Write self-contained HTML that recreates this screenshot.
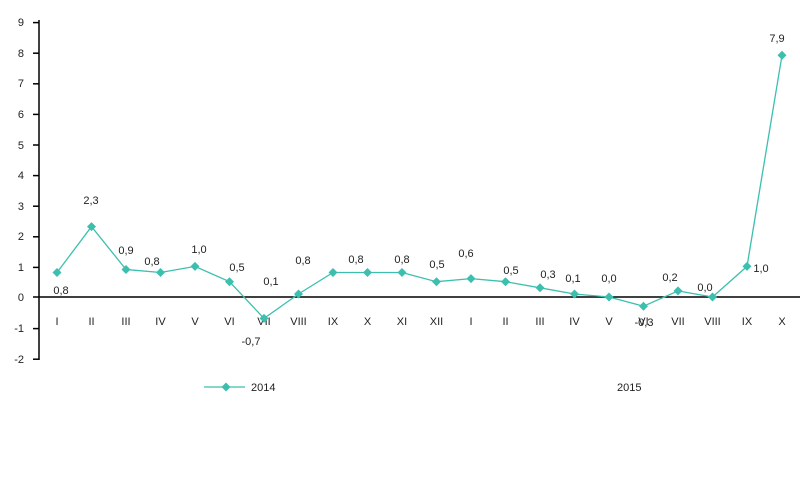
<!DOCTYPE html><html><head><style>body{margin:0;background:#fff}svg{display:block}text{font-family:"Liberation Sans",sans-serif;font-size:11px;fill:#222}</style></head><body>
<svg width="800" height="491" viewBox="0 0 800 491">
<g stroke="#000" stroke-width="1.5">
<line x1="39" y1="20" x2="39" y2="360"/>
<line x1="39" y1="297" x2="800" y2="297"/>
<line x1="33" y1="22.6" x2="39" y2="22.6"/><line x1="33" y1="53.2" x2="39" y2="53.2"/><line x1="33" y1="83.8" x2="39" y2="83.8"/><line x1="33" y1="114.4" x2="39" y2="114.4"/><line x1="33" y1="145" x2="39" y2="145"/><line x1="33" y1="175.6" x2="39" y2="175.6"/><line x1="33" y1="206.2" x2="39" y2="206.2"/><line x1="33" y1="236.8" x2="39" y2="236.8"/><line x1="33" y1="267.4" x2="39" y2="267.4"/><line x1="33" y1="297" x2="39" y2="297"/><line x1="33" y1="328.6" x2="39" y2="328.6"/><line x1="33" y1="359.2" x2="39" y2="359.2"/>
</g>
<g text-anchor="end">
<text x="24" y="26">9</text><text x="24" y="57">8</text><text x="24" y="87">7</text><text x="24" y="118">6</text><text x="24" y="149">5</text><text x="24" y="179">4</text><text x="24" y="210">3</text><text x="24" y="240">2</text><text x="24" y="271">1</text><text x="24" y="301">0</text><text x="24" y="332">-1</text><text x="24" y="363">-2</text>
</g>
<g text-anchor="middle" fill="#444">
<text x="57" y="325">I</text><text x="91.5" y="325">II</text><text x="126" y="325">III</text><text x="160.5" y="325">IV</text><text x="195" y="325">V</text><text x="229.5" y="325">VI</text><text x="264" y="325">VII</text><text x="298.5" y="325">VIII</text><text x="333" y="325">IX</text><text x="367.5" y="325">X</text><text x="402" y="325">XI</text><text x="436.5" y="325">XII</text><text x="471" y="325">I</text><text x="505.5" y="325">II</text><text x="540" y="325">III</text><text x="574.5" y="325">IV</text><text x="609" y="325">V</text><text x="643.5" y="325">VI</text><text x="678" y="325">VII</text><text x="712.5" y="325">VIII</text><text x="747" y="325">IX</text><text x="782" y="325">X</text>
</g>
<polyline fill="none" stroke="#3cbfae" stroke-width="1.3" points="57,272.5 91.5,226.6 126,269.5 160.5,272.5 195,266.4 229.5,281.7 264,318.4 298.5,294 333,272.5 367.5,272.5 402,272.5 436.5,281.7 471,278.6 505.5,281.7 540,287.8 574.5,294 609,297 643.5,306.2 678,290.9 712.5,297 747,266.4 782,55.3"/>
<g fill="#3cbfae">
<path id="d" d="M0,-4.5L4.5,0L0,4.5L-4.5,0Z" transform="translate(57,272.5)"/>
<path d="M0,-4.5L4.5,0L0,4.5L-4.5,0Z" transform="translate(91.5,226.6)"/><path d="M0,-4.5L4.5,0L0,4.5L-4.5,0Z" transform="translate(126,269.5)"/><path d="M0,-4.5L4.5,0L0,4.5L-4.5,0Z" transform="translate(160.5,272.5)"/><path d="M0,-4.5L4.5,0L0,4.5L-4.5,0Z" transform="translate(195,266.4)"/><path d="M0,-4.5L4.5,0L0,4.5L-4.5,0Z" transform="translate(229.5,281.7)"/><path d="M0,-4.5L4.5,0L0,4.5L-4.5,0Z" transform="translate(264,318.4)"/><path d="M0,-4.5L4.5,0L0,4.5L-4.5,0Z" transform="translate(298.5,294)"/><path d="M0,-4.5L4.5,0L0,4.5L-4.5,0Z" transform="translate(333,272.5)"/><path d="M0,-4.5L4.5,0L0,4.5L-4.5,0Z" transform="translate(367.5,272.5)"/><path d="M0,-4.5L4.5,0L0,4.5L-4.5,0Z" transform="translate(402,272.5)"/><path d="M0,-4.5L4.5,0L0,4.5L-4.5,0Z" transform="translate(436.5,281.7)"/><path d="M0,-4.5L4.5,0L0,4.5L-4.5,0Z" transform="translate(471,278.6)"/><path d="M0,-4.5L4.5,0L0,4.5L-4.5,0Z" transform="translate(505.5,281.7)"/><path d="M0,-4.5L4.5,0L0,4.5L-4.5,0Z" transform="translate(540,287.8)"/><path d="M0,-4.5L4.5,0L0,4.5L-4.5,0Z" transform="translate(574.5,294)"/><path d="M0,-4.5L4.5,0L0,4.5L-4.5,0Z" transform="translate(609,297)"/><path d="M0,-4.5L4.5,0L0,4.5L-4.5,0Z" transform="translate(643.5,306.2)"/><path d="M0,-4.5L4.5,0L0,4.5L-4.5,0Z" transform="translate(678,290.9)"/><path d="M0,-4.5L4.5,0L0,4.5L-4.5,0Z" transform="translate(712.5,297)"/><path d="M0,-4.5L4.5,0L0,4.5L-4.5,0Z" transform="translate(747,266.4)"/><path d="M0,-4.5L4.5,0L0,4.5L-4.5,0Z" transform="translate(782,55.3)"/>
</g>
<g text-anchor="middle">
<text x="61" y="294">0,8</text><text x="91" y="204">2,3</text><text x="126" y="254">0,9</text><text x="152" y="265">0,8</text><text x="199" y="253">1,0</text><text x="237" y="271">0,5</text><text x="271" y="285">0,1</text><text x="251" y="345">-0,7</text><text x="303" y="264">0,8</text><text x="356" y="263">0,8</text><text x="402" y="263">0,8</text><text x="437" y="268">0,5</text><text x="466" y="257">0,6</text><text x="511" y="274">0,5</text><text x="548" y="278">0,3</text><text x="573" y="282">0,1</text><text x="609" y="282">0,0</text><text x="644" y="326">-0,3</text><text x="670" y="281">0,2</text><text x="705" y="291">0,0</text><text x="761" y="272">1,0</text><text x="777" y="42">7,9</text>
</g>
<line x1="204" y1="387" x2="245" y2="387" stroke="#3cbfae" stroke-width="1.3"/>
<path d="M0,-4.5L4.5,0L0,4.5L-4.5,0Z" transform="translate(226,387)" fill="#3cbfae"/>
<text x="251" y="391">2014</text>
<text x="617" y="391">2015</text>
</svg>
</body></html>
